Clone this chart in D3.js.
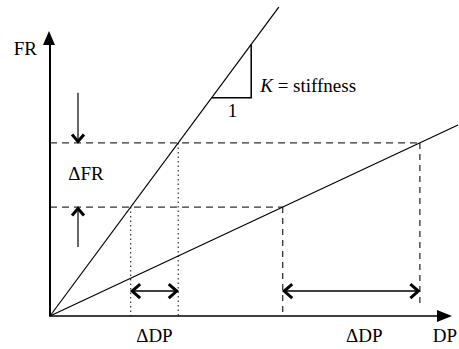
<!DOCTYPE html>
<html>
<head>
<meta charset="utf-8">
<script src="https://cdn.jsdelivr.net/npm/d3@7"></script>
<style>
  html, body { margin: 0; padding: 0; background: #fff; }
  svg { display: block; }
</style>
</head>
<body>
<svg id="chart" width="459" height="349"></svg>
<script>
// ---- data (diagram units) ----
const stiffnessSlopes = [1.8, 0.624];          // steep line, shallow line (FR per DP)
const lineEndsDP = [57.2, 102];                 // extent of each line along DP
const frLevels = [36.3, 57.7];                  // lower and upper FR levels
const triangleDP = [40.4, 50.3];                // unit-triangle run along DP
const axisMax = { dp: 100.5, fr: 95 };
const axisLabels = ["FR", "DP"];
const deltaLabels = ["\u0394FR", "\u0394DP", "\u0394DP"];
const triangleLabels = ["1", "K", " = stiffness"];

const FONT = "'Liberation Serif', 'Times New Roman', Tinos, 'DejaVu Serif', serif";

// ---- scales ----
const x = d3.scaleLinear().domain([0, 100]).range([50, 450]);
const y = d3.scaleLinear().domain([0, 100]).range([316, 16]);

const svg = d3.select("#chart");

// derived DP positions where each line reaches each FR level
const dpSteep = frLevels.map(f => f / stiffnessSlopes[0]);
const dpShallow = frLevels.map(f => f / stiffnessSlopes[1]);

// ---- dashed horizontals ----
svg.selectAll("line.hdash").data(frLevels.map((f, i) => ({ f, dp: dpShallow[i] })))
  .enter().append("line")
  .attr("x1", x(0)).attr("x2", d => x(d.dp))
  .attr("y1", d => y(d.f)).attr("y2", d => y(d.f))
  .attr("stroke", "#333").attr("stroke-width", 1.3).attr("stroke-dasharray", "7,5");

// ---- dashed verticals (shallow line) ----
svg.selectAll("line.vdash").data(frLevels.map((f, i) => ({ f, dp: dpShallow[i], end: i === 0 ? 0 : 3 })))
  .enter().append("line")
  .attr("x1", d => x(d.dp)).attr("x2", d => x(d.dp))
  .attr("y1", d => y(d.f)).attr("y2", d => y(d.end))
  .attr("stroke", "#333").attr("stroke-width", 1.3).attr("stroke-dasharray", "6,5");

// ---- dotted verticals (steep line) ----
svg.selectAll("line.vdot").data(frLevels.map((f, i) => ({ f, dp: dpSteep[i] })))
  .enter().append("line")
  .attr("x1", d => x(d.dp)).attr("x2", d => x(d.dp))
  .attr("y1", d => y(d.f)).attr("y2", y(0))
  .attr("stroke", "#333").attr("stroke-width", 1.2).attr("stroke-dasharray", "1.5,3");

// ---- stiffness lines ----
svg.selectAll("line.stiff").data(stiffnessSlopes.map((k, i) => ({ k, end: lineEndsDP[i] })))
  .enter().append("line")
  .attr("x1", x(0)).attr("y1", y(0))
  .attr("x2", d => x(d.end)).attr("y2", d => y(d.k * d.end))
  .attr("stroke", "#000").attr("stroke-width", 1.2);

// ---- unit triangle ----
const tri = [
  [triangleDP[0], stiffnessSlopes[0] * triangleDP[0]],
  [triangleDP[1], stiffnessSlopes[0] * triangleDP[0]],
  [triangleDP[1], stiffnessSlopes[0] * triangleDP[1]]
];
svg.append("path")
  .attr("d", d3.line().x(d => x(d[0])).y(d => y(d[1]))(tri))
  .attr("fill", "none").attr("stroke", "#000").attr("stroke-width", 1.5);

// ---- axes ----
svg.append("line").attr("x1", x(0)).attr("y1", y(0)).attr("x2", x(0)).attr("y2", y(axisMax.fr) + 12)
  .attr("stroke", "#000").attr("stroke-width", 2);
svg.append("line").attr("x1", x(0) - 1).attr("y1", y(0)).attr("x2", x(axisMax.dp) - 12).attr("y2", y(0))
  .attr("stroke", "#000").attr("stroke-width", 1.5);
// arrowheads
svg.append("path")
  .attr("d", `M${x(0) - 1},${y(axisMax.fr)} L${x(0) - 7},${y(axisMax.fr) + 14} L${x(0) + 5},${y(axisMax.fr) + 14} Z`)
  .attr("fill", "#000");
svg.append("path")
  .attr("d", `M${x(axisMax.dp)},${y(0)} L${x(axisMax.dp) - 15},${y(0) - 6} L${x(axisMax.dp) - 15},${y(0) + 6} Z`)
  .attr("fill", "#000");

// ---- chevron helper ----
function chevron(px, py, dir, a, b) {
  let p;
  if (dir === 'r') p = [[px - a, py - b], [px, py], [px - a, py + b]];
  if (dir === 'l') p = [[px + a, py - b], [px, py], [px + a, py + b]];
  if (dir === 'd') p = [[px - b, py - a], [px, py], [px + b, py - a]];
  if (dir === 'u') p = [[px - b, py + a], [px, py], [px + b, py + a]];
  svg.append("path").attr("d", d3.line()(p))
    .attr("fill", "none").attr("stroke", "#000").attr("stroke-width", 3)
    .attr("stroke-linejoin", "miter");
}

// ---- ΔDP double arrows ----
const arrowFR = 8.3;
[[dpSteep[0], dpSteep[1]], [dpShallow[0], dpShallow[1]]].forEach(([a, b]) => {
  svg.append("line").attr("x1", x(a) + 1).attr("x2", x(b) - 1)
    .attr("y1", y(arrowFR)).attr("y2", y(arrowFR))
    .attr("stroke", "#000").attr("stroke-width", 1.5);
  chevron(x(a) + 1.5, y(arrowFR), 'l', 8, 7);
  chevron(x(b) - 1.5, y(arrowFR), 'r', 8, 7);
});

// ---- ΔFR arrows ----
const arrowDP = 7;
svg.append("line").attr("x1", x(arrowDP)).attr("x2", x(arrowDP))
  .attr("y1", y(frLevels[1] + 16.7)).attr("y2", y(frLevels[1]) - 1)
  .attr("stroke", "#000").attr("stroke-width", 1.2);
chevron(x(arrowDP), y(frLevels[1]) - 1.5, 'd', 7, 6);
svg.append("line").attr("x1", x(arrowDP)).attr("x2", x(arrowDP))
  .attr("y1", y(frLevels[0] - 13.3)).attr("y2", y(frLevels[0]) + 1)
  .attr("stroke", "#000").attr("stroke-width", 1.2);
chevron(x(arrowDP), y(frLevels[0]) + 1.5, 'u', 7, 6);

// ---- labels ----
function label(px, py, anchor, str) {
  return svg.append("text").attr("x", px).attr("y", py)
    .attr("text-anchor", anchor)
    .attr("font-family", FONT).attr("font-size", 19).attr("fill", "#000")
    .text(str);
}
label(x(0) - 13, y(axisMax.fr) + 24, "end", axisLabels[0]);
label(x(axisMax.dp) - 7, 342, "middle", axisLabels[1]);
label(x(9), y((frLevels[0] + frLevels[1]) / 2) + 5, "middle", deltaLabels[0]);
label((x(dpSteep[0]) + x(dpSteep[1])) / 2, 342, "middle", deltaLabels[1]);
label((x(dpShallow[0]) + x(dpShallow[1])) / 2 + 13, 342, "middle", deltaLabels[2]);
label(x((triangleDP[0] + triangleDP[1]) / 2) + 1, y(stiffnessSlopes[0] * triangleDP[0]) + 19, "middle", triangleLabels[0]);
const kt = label(x(triangleDP[1]) + 9, 92, "start", null);
kt.append("tspan").attr("font-style", "italic").text(triangleLabels[1]);
kt.append("tspan").text(triangleLabels[2]);
</script>
</body>
</html>
